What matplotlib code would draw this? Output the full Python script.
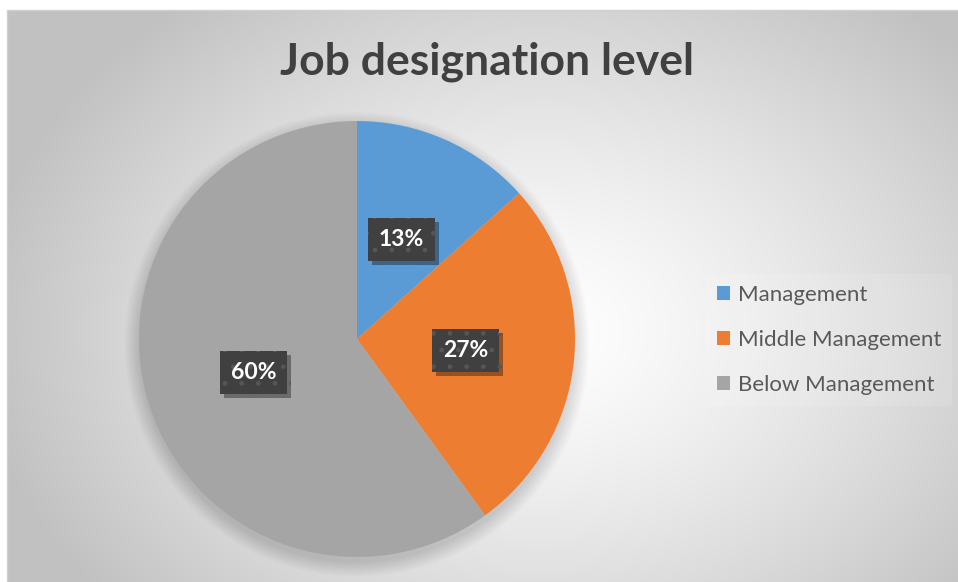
import numpy as np
import matplotlib.pyplot as plt
import matplotlib.patheffects as pe
from matplotlib.patches import Circle, Rectangle

categories = ['Management', 'Middle Management', 'Below Management']
counts = [20, 40, 90]
colors = ['#5b9bd5', '#ed7d31', '#a5a5a5']
pct_labels = ['13%', '27%', '60%']

W, H = 958, 582
fig = plt.figure(figsize=(W / 100, H / 100), dpi=100)
fig.patch.set_facecolor('white')

# chart area background: radial grey-to-white gradient
bg = fig.add_axes([0, 0, 1, 1])
bg.set_xlim(0, W)
bg.set_ylim(H, 0)
bg.axis('off')
yy, xx = np.mgrid[10:H, 7:W]
d = np.sqrt(((xx - 540) / 560.0) ** 2 + ((yy - 330) / 420.0) ** 2)
shade = 1.0 - 0.24 * np.clip(d, 0, 1) ** 1.3
img = np.dstack([shade, shade, shade])
bg.imshow(img, extent=[7, W, H, 10], aspect='auto', interpolation='bilinear')
bg.add_patch(Rectangle((7, 10), W, H, fill=False, ec='#d0d0d0', lw=1))

# pie axes: centre (357, 339) px, radius 218 px
R = 218
cx, cy = 357, 339
span = 1.3
ax = fig.add_axes([(cx - span * R) / W, (H - cy - span * R) / H,
                   2 * span * R / W, 2 * span * R / H])
ax.axis('off')

# soft shadow around the pie
for i in range(12):
    r = 1.0 + 0.006 * i
    ax.add_patch(Circle((0.0, -0.025), r, color='black', alpha=0.012, lw=0, zorder=1))

wedges, _ = ax.pie(counts, colors=colors, startangle=90, counterclock=False,
                   radius=1.0, wedgeprops=dict(lw=0, zorder=2))
ax.set_xlim(-span, span)
ax.set_ylim(-span, span)
ax.set_aspect('equal')

# data labels
total = sum(counts)
start = 90.0
for val, lab in zip(counts, pct_labels):
    sweep = 360.0 * val / total
    mid = np.deg2rad(start - sweep / 2)
    start -= sweep
    x, y = 0.5 * np.cos(mid), 0.5 * np.sin(mid)
    t = ax.text(x, y, lab, ha='center', va='center', fontsize=16.5,
                fontweight='bold', family='Lato', color='white', zorder=5,
                bbox=dict(boxstyle='square,pad=0.48', fc='#404040', ec='#565656',
                          lw=0, hatch='.'))
    t.get_bbox_patch().set_path_effects([
        pe.SimplePatchShadow(offset=(3, -3), shadow_rgbFace='black', alpha=0.35),
        pe.Normal()])

# title
fig.text(487 / W, 1 - 62 / H, 'Job designation level', ha='center', va='center',
         fontsize=32, fontweight='bold', family='Lato', color='#404040')

# legend
handles = [Rectangle((0, 0), 1, 1, fc=c, lw=0) for c in colors]
leg = fig.legend(handles, categories, loc='center left',
                 bbox_to_anchor=(695 / W, 1 - 340 / H), frameon=True,
                 prop={'family': 'Lato', 'size': 16},
                 labelcolor='#595959', handlelength=0.58, handleheight=0.58,
                 handletextpad=0.35, labelspacing=1.12, borderpad=0.5,
                 facecolor='white', framealpha=0.12)
leg.get_frame().set_linewidth(0)

fig.savefig('out.png', dpi=100)
